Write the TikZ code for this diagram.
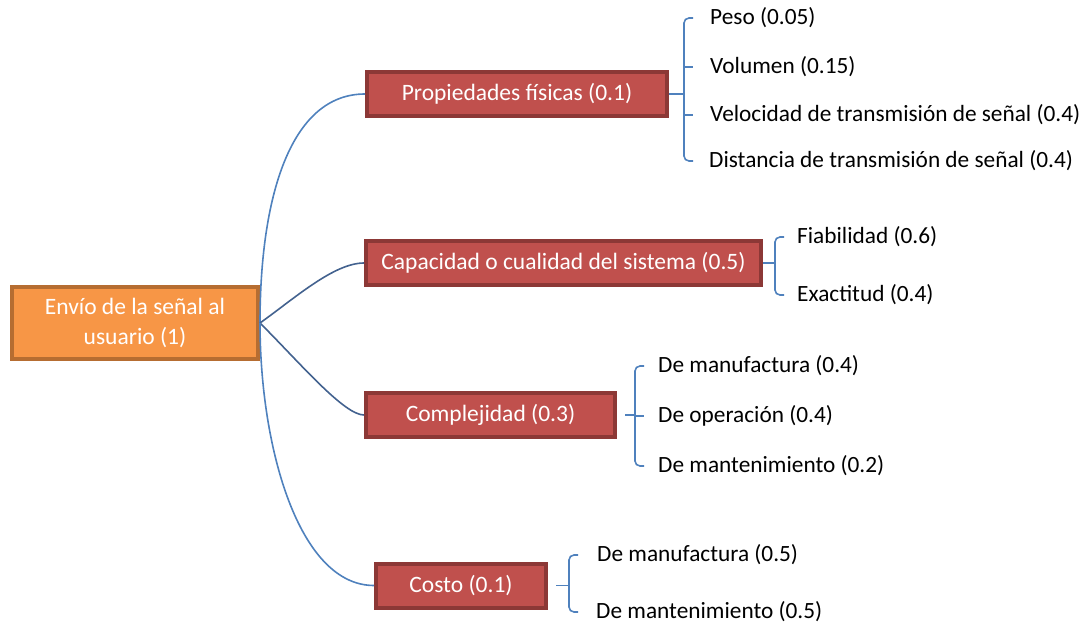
\documentclass[tikz,border=0pt]{standalone}
\usepackage{fontspec}
\setmainfont{Carlito}
\usepackage{tikz}
\usetikzlibrary{arrows.meta}
\definecolor{rootorange}{HTML}{F79646}
\definecolor{rootborder}{HTML}{B66D31}
\definecolor{topicred}{HTML}{C0504D}
\definecolor{topicborder}{HTML}{8C3836}
\definecolor{linkblue}{HTML}{4F81BD}
\definecolor{linkdark}{HTML}{43628F}
\tikzstyle{rootbox}=[rectangle, fill=rootorange, draw=rootborder, line width=4pt, text=white, align=center, minimum width=246pt, minimum height=72pt, font=\fontsize{23.5}{30}\selectfont]
\tikzstyle{topicbox}=[rectangle, fill=topicred, draw=topicborder, line width=4pt, text=white, minimum height=44pt, font=\fontsize{23.5}{28}\selectfont]
\tikzstyle{leaf}=[anchor=west, inner sep=0pt, font=\fontsize{23.3}{28}\selectfont]
\tikzstyle{link}=[draw=linkblue, line width=1.6pt]
\tikzstyle{linkmid}=[draw=linkdark, line width=1.6pt]
\tikzstyle{brace}=[draw=linkblue, line width=1.6pt, rounded corners=5pt]

\begin{document}
\begin{tikzpicture}[x=1pt, y=-1pt]
		   \useasboundingbox (0,0) rectangle (1084,628);
		   \begin{scope}
			   \node (root) at (135, 323)[rootbox] {Envío de la señal al\\usuario (1)};
			   \node (prop) at (517, 94)[topicbox, minimum width=300pt] {Propiedades físicas (0.1)};
			   \node (cap) at (563.5, 263)[topicbox, minimum width=395pt] {Capacidad o cualidad del sistema (0.5)};
			   \node (comp) at (490.5, 415)[topicbox, minimum width=249pt] {Complejidad (0.3)};
			   \node (cost) at (461, 585.5)[topicbox, minimum width=170pt] {Costo (0.1)};
		   \end{scope}
		   \begin{scope}
			   \node (peso) at (710, 18)[leaf] {Peso (0.05)};
			   \node (vol) at (710, 67)[leaf] {Volumen (0.15)};
			   \node (vel) at (710, 115)[leaf] {Velocidad de transmisión de señal (0.4)};
			   \node (dist) at (709, 161)[leaf] {Distancia de transmisión de señal (0.4)};
			   \node (fiab) at (797, 237)[leaf] {Fiabilidad (0.6)};
			   \node (exac) at (797, 295)[leaf] {Exactitud (0.4)};
			   \node (cman) at (658, 366)[leaf] {De manufactura (0.4)};
			   \node (cope) at (658, 416)[leaf] {De operación (0.4)};
			   \node (cmant) at (658, 466)[leaf] {De mantenimiento (0.2)};
			   \node (kman) at (597, 555)[leaf] {De manufactura (0.5)};
			   \node (kmant) at (596, 612)[leaf] {De mantenimiento (0.5)};
		   \end{scope}
		   \begin{scope}
			   \coordinate (bprop) at (684, 94);
			   \coordinate (bcap) at (775, 263);
			   \coordinate (bcomp) at (635, 415);
			   \coordinate (bcost) at (569, 585.5);
		   \end{scope}
		   \begin{scope}
			   \draw [link] (root.east) .. controls +(0,-125) and +(-75,0) .. (prop.west);
			   \draw [linkmid] (root.east) .. controls +(35,-25) and +(-30,0) .. (cap.west);
			   \draw [linkmid] (root.east) .. controls +(40,40) and +(-20,0) .. (comp.west);
			   \draw [link] (root.east) .. controls +(0,125) and +(-75,0) .. (cost.west);
		   \end{scope}
		   \begin{scope}
			   \draw [brace] (prop.east) -- (bprop);
			   \draw [brace] (bprop |- peso.west) ++(9,0) -- ++(-9,0) -- (bprop |- dist.west) -- ++(9,0);
			   \draw [brace] (bprop |- vol.west) -- ++(9,0);
			   \draw [brace] (bprop |- vel.west) -- ++(9,0);
			   \draw [brace] (cap.east) -- (bcap);
			   \draw [brace] (bcap |- fiab.west) ++(9,0) -- ++(-9,0) -- (bcap |- exac.west) -- ++(9,0);
			   \draw [brace] ([xshift=8pt]comp.east) -- (bcomp);
			   \draw [brace] (bcomp |- cman.west) ++(9,0) -- ++(-9,0) -- (bcomp |- cmant.west) -- ++(9,0);
			   \draw [brace] (bcomp |- cope.west) -- ++(9,0);
			   \draw [brace] ([xshift=8pt]cost.east) -- (bcost);
			   \draw [brace] (bcost |- kman.west) ++(9,0) -- ++(-9,0) -- (bcost |- kmant.west) -- ++(9,0);
		   \end{scope}
	   \end{tikzpicture}
\end{document}
